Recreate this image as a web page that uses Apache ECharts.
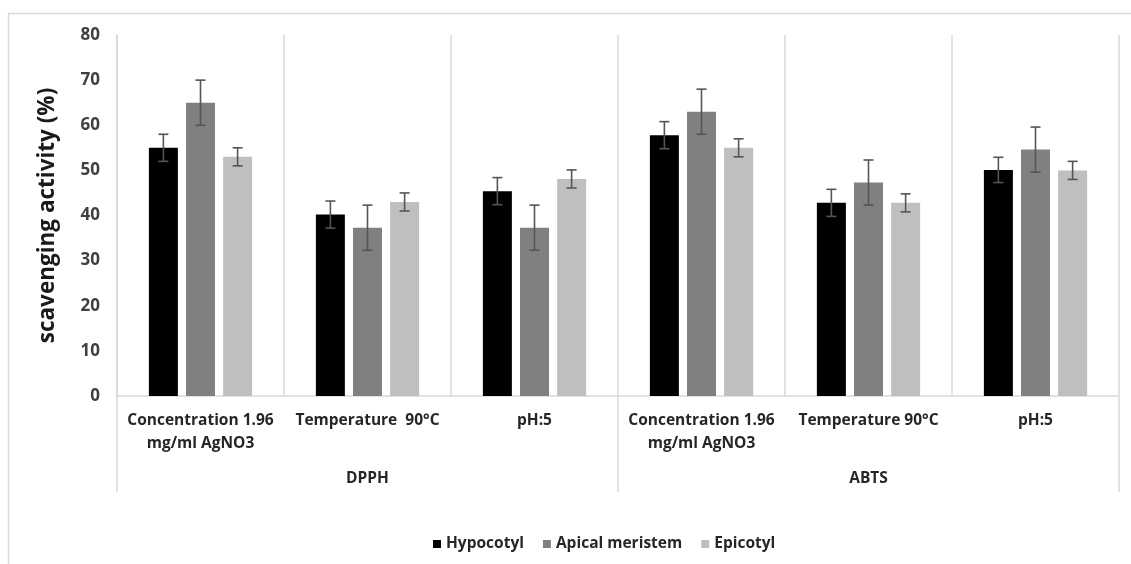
<!DOCTYPE html>
<html>
<head>
<meta charset="utf-8">
<script src="https://cdn.jsdelivr.net/npm/echarts@6/dist/echarts.min.js"></script>
<style>
html,body{margin:0;padding:0;background:#fff;}
#chart{width:1131px;height:564px;}
</style>
</head>
<body>
<div id="chart"></div>
<script>
// ---- data ----
var categories = ['Concentration 1.96\nmg/ml AgNO3', 'Temperature  90°C', 'pH:5', 'Concentration 1.96\nmg/ml AgNO3', 'Temperature 90°C', 'pH:5'];
var groups = ['DPPH', 'ABTS'];
var seriesNames = ['Hypocotyl', 'Apical meristem', 'Epicotyl'];
var hypocotyl = [55, 40.2, 45.4, 57.8, 42.8, 50.1];
var hypocotylErr = [3, 3, 3, 3, 3, 2.8];
var apical = [65, 37.3, 37.3, 63, 47.3, 54.6];
var apicalErr = [5, 5, 5, 5, 5, 5];
var epicotyl = [53, 43, 48.1, 55, 42.8, 50];
var epicotylErr = [2, 2, 2, 2, 2, 2];
var yTicks = [0, 10, 20, 30, 40, 50, 60, 70, 80];

var colors = ['#000000', '#808080', '#bfbfbf'];
var values = [hypocotyl, apical, epicotyl];
var errs = [hypocotylErr, apicalErr, epicotylErr];

var BAR_W = 29, GAP = 0.28;
var FONT = '"Open Sans", "Noto Sans", sans-serif';

var chart = echarts.init(document.getElementById('chart'));

var series = [];
values.forEach(function (vals, i) {
  series.push({
    name: seriesNames[i],
    type: 'bar',
    data: vals,
    barWidth: BAR_W,
    barGap: (GAP * 100) + '%',
    itemStyle: { color: colors[i] },
    xAxisIndex: 0
  });
});
values.forEach(function (vals, i) {
  var d = vals.map(function (v, k) { return [k, v, errs[i][k]]; });
  series.push({
    type: 'custom',
    name: seriesNames[i] + ' err',
    xAxisIndex: 0,
    z: 10,
    silent: true,
    renderItem: function (params, api) {
      var x = api.value(0), v = api.value(1), e = api.value(2);
      var hi = api.coord([x, v + e]);
      var lo = api.coord([x, v - e]);
      var off = (i - 1) * BAR_W * (1 + GAP);
      var cx = hi[0] + off;
      var cap = 5;
      var st = { stroke: '#555555', lineWidth: 1.6 };
      return {
        type: 'group',
        children: [
          { type: 'line', shape: { x1: cx, y1: hi[1], x2: cx, y2: lo[1] }, style: st },
          { type: 'line', shape: { x1: cx - cap, y1: hi[1], x2: cx + cap, y2: hi[1] }, style: st },
          { type: 'line', shape: { x1: cx - cap, y1: lo[1], x2: cx + cap, y2: lo[1] }, style: st }
        ]
      };
    },
    data: d
  });
});

chart.setOption({
  animation: false,
  backgroundColor: '#ffffff',
  graphic: [{
    type: 'rect',
    shape: { x: 8.5, y: 13.5, width: 1300, height: 700 },
    style: { fill: 'none', stroke: '#d9d9d9', lineWidth: 1.5 },
    silent: true,
    z: -1
  }],
  grid: { left: 117, right: 12, top: 35, bottom: 168 },
  legend: {
    data: seriesNames,
    left: 428,
    top: 531,
    itemWidth: 8,
    itemHeight: 8,
    itemGap: 19,
    icon: 'rect',
    textStyle: { fontFamily: FONT, fontWeight: 'bold', fontSize: 15.5, color: '#262626' }
  },
  xAxis: [{
    type: 'category',
    data: categories,
    position: 'bottom',
    axisLine: { show: true, lineStyle: { color: '#d9d9d9', width: 1.5 } },
    axisTick: { show: false },
    splitLine: { show: true, interval: 0, lineStyle: { color: '#d9d9d9', width: 1.5 } },
    axisLabel: {
      interval: 0,
      margin: 13,
      lineHeight: 23,
      fontFamily: FONT, fontWeight: 'bold', fontSize: 15.5, color: '#262626'
    }
  }, {
    type: 'category',
    data: groups,
    position: 'bottom',
    axisLine: { show: false },
    axisTick: { show: true, length: 96, lineStyle: { color: '#d9d9d9', width: 1.5 } },
    splitLine: { show: false },
    axisLabel: {
      interval: 0,
      margin: 75,
      fontFamily: FONT, fontWeight: 'bold', fontSize: 15.5, color: '#262626'
    }
  }],
  yAxis: {
    type: 'value',
    min: 0,
    max: 80,
    interval: 10,
    name: 'scavenging activity (%)',
    nameLocation: 'middle',
    nameGap: 58,
    nameTextStyle: { fontFamily: FONT, fontWeight: 'bold', fontSize: 22.5, color: '#1a1a1a' },
    axisLine: { show: true, lineStyle: { color: '#d9d9d9', width: 1.5 } },
    axisTick: { show: false },
    splitLine: { show: false },
    axisLabel: {
      margin: 17,
      fontFamily: FONT, fontWeight: 'bold', fontSize: 17, color: '#404040',
      formatter: function (v) { return yTicks.indexOf(v) >= 0 ? String(v) : ''; }
    }
  },
  series: series
});
</script>
</body>
</html>
